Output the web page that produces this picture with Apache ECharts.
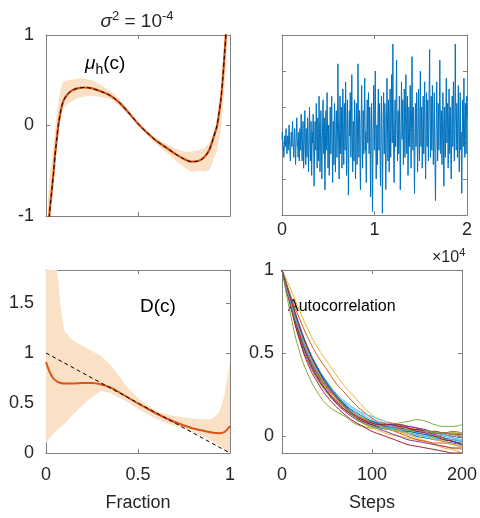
<!DOCTYPE html>
<html><head><meta charset="utf-8">
<script src="https://cdn.jsdelivr.net/npm/echarts@6/dist/echarts.min.js"></script>
<style>html,body{margin:0;padding:0;background:#fff}#c{width:480px;height:518px}</style>
</head><body><div id="c"></div>
<script>
// ---------- Panel 1: mu_h(c) ----------
const muC = [0.010,0.018,0.025,0.034,0.042,0.049,0.058,0.067,0.080,0.094,0.115,0.140,0.170,0.210,0.250,0.300,0.350,0.400,0.450,0.500,0.550,0.600,0.650,0.700,0.750,0.790,0.830,0.860,0.885,0.905,0.920,0.930,0.940,0.950,0.960,0.970,0.978,0.985];
const muTrue = [-1.25,-1.00,-0.85,-0.67,-0.50,-0.34,-0.16,0.00,0.16,0.27,0.34,0.385,0.41,0.42,0.41,0.375,0.33,0.25,0.14,0.02,-0.08,-0.17,-0.24,-0.31,-0.37,-0.40,-0.39,-0.35,-0.28,-0.17,-0.07,0.00,0.13,0.28,0.50,0.78,1.02,1.35];
const muEst = [-1.24,-1.00,-0.84,-0.67,-0.50,-0.33,-0.16,0.00,0.16,0.27,0.34,0.385,0.41,0.42,0.41,0.375,0.33,0.25,0.14,0.02,-0.08,-0.17,-0.24,-0.31,-0.37,-0.40,-0.39,-0.35,-0.28,-0.17,-0.07,0.00,0.13,0.28,0.50,0.78,1.02,1.34];
const muUpper = [-0.84,-0.62,-0.48,-0.33,-0.18,-0.03,0.12,0.26,0.40,0.49,0.50,0.505,0.52,0.52,0.50,0.445,0.38,0.29,0.165,0.04,-0.06,-0.14,-0.20,-0.25,-0.29,-0.29,-0.27,-0.25,-0.20,-0.11,-0.02,0.05,0.18,0.34,0.58,0.88,1.14,1.49];
const muLower = [-1.39,-1.12,-0.94,-0.75,-0.56,-0.38,-0.21,-0.05,0.10,0.19,0.24,0.265,0.30,0.32,0.33,0.315,0.29,0.22,0.12,0.00,-0.105,-0.21,-0.29,-0.38,-0.46,-0.51,-0.50,-0.51,-0.50,-0.41,-0.33,-0.28,-0.17,-0.04,0.16,0.42,0.64,0.94];
const muTicksY = [-1,0,1];

// ---------- Panel 2: trace ----------
const traceSpan = 20000;
const trace = [
0.1,0.3,0.2,0.0,-0.2,-0.1,-0.4,-0.2,0.1,0.2,0.0,-0.1,0.2,0.4,0.1,-0.1,-0.3,0.0,0.2,0.1,
-0.2,0.0,0.3,0.5,0.2,-0.1,-0.3,-0.5,-0.2,0.1,0.3,0.1,-0.1,0.2,0.6,0.3,0.0,-0.2,-0.4,-0.1,
0.2,0.4,0.1,-0.3,-0.6,-0.2,0.1,0.5,0.7,0.3,-0.1,0.0,-0.4,-0.2,0.3,0.1,-0.5,-0.1,0.4,0.2,
-0.2,0.3,0.8,0.4,-0.1,-0.5,-0.3,0.2,0.6,0.1,-0.7,-0.4,0.0,0.5,0.9,0.3,-0.2,-0.6,0.1,0.4,
0.0,-0.4,0.2,0.7,0.3,-0.3,-0.8,-0.2,0.4,1.0,0.5,-0.1,-0.5,0.1,0.6,0.2,-0.9,-0.3,0.3,0.0,
0.5,0.8,0.2,-0.4,-1.2,-0.6,0.1,0.6,0.3,-0.2,0.4,1.1,0.5,-0.3,-0.7,0.0,0.7,0.2,-0.5,0.3,
1.3,0.6,-0.2,-0.8,-0.3,0.4,0.9,0.2,-0.6,-1.0,-0.4,0.3,0.8,1.2,0.5,-0.3,0.1,0.7,-0.5,-1.3,
-0.6,0.2,0.9,0.4,-0.2,0.6,1.4,0.7,-0.1,-0.7,-0.2,0.5,0.1,-0.9,-0.4,0.3,1.0,0.6,-0.3,0.2,
0.8,1.3,0.4,-0.5,-1.1,-0.3,0.6,0.2,-0.6,0.4,1.1,0.7,0.0,-0.8,-0.2,0.5,0.9,0.3,-0.4,0.1,
0.6,2.2,1.0,0.3,-0.5,-1.0,-0.2,0.7,1.3,0.4,-0.3,0.2,1.0,0.5,-0.7,-0.2,0.6,1.5,0.8,0.0,
-0.6,0.3,1.1,0.6,-0.2,0.4,1.7,0.9,0.1,-0.9,-0.4,0.5,1.2,0.3,-0.3,-1.45,-0.6,0.4,0.9,0.2,
0.7,1.4,0.5,-0.4,0.1,1.0,1.9,0.8,-0.2,-0.8,0.0,0.6,0.3,-0.5,0.4,1.2,0.6,-0.1,-1.0,-0.3,
0.5,1.1,0.4,-0.6,-0.1,0.8,2.2,1.2,0.3,-0.4,0.2,0.9,0.5,-0.8,-1.3,-0.5,0.4,1.0,1.6,0.7,
-0.1,-0.7,0.2,0.9,0.4,-0.3,0.5,1.3,1.8,0.6,-0.2,0.3,-0.6,-1.1,-0.3,0.7,1.2,0.4,0.0,0.8,
1.4,0.6,-0.3,0.2,1.0,0.5,-0.8,-1.5,-0.4,0.6,1.1,0.3,-0.6,-1.9,-0.9,0.2,0.9,1.6,0.7,-0.2,
0.4,1.2,2.0,0.8,-0.3,-1.0,-0.4,0.5,0.1,-0.6,0.3,1.0,1.5,0.6,-0.2,0.4,1.1,0.2,-0.7,-1.2,
-0.5,0.6,1.3,0.7,-0.1,-1.95,-1.0,0.1,0.8,1.4,0.5,-0.3,0.3,1.1,0.6,-0.4,-1.3,-0.6,0.5,1.0,
1.8,0.9,0.2,-0.5,0.3,1.2,0.6,-0.8,-0.2,0.7,1.5,0.4,-0.4,0.2,1.0,1.9,0.8,0.0,1.3,2.75,
1.1,0.2,-0.6,-1.1,-0.3,0.5,1.2,0.7,-0.1,0.4,1.6,2.3,1.0,0.2,-0.5,0.3,0.9,0.4,-0.3,0.6,
1.3,0.5,-0.2,-1.3,-0.5,0.4,1.0,1.7,0.8,0.1,0.6,1.2,0.3,-0.6,0.0,0.9,1.5,0.6,-0.4,0.2,
0.8,1.9,1.1,0.3,-0.3,0.5,1.3,0.6,-0.9,-0.2,0.4,1.0,0.5,-0.1,0.7,1.6,0.9,0.2,-0.7,0.3,
1.2,2.4,1.1,0.4,-0.2,0.6,1.0,0.3,-0.6,-1.4,-0.5,0.4,1.1,0.6,-0.1,0.5,1.4,0.8,0.0,-0.8,
-0.2,0.7,1.5,0.9,0.2,-0.5,0.3,1.2,2.0,0.8,-0.1,0.4,1.0,0.3,-0.7,-0.2,0.6,1.3,0.5,-0.3,
0.4,1.1,1.7,0.6,-0.4,-1.0,-0.2,0.8,1.4,0.5,-0.1,0.6,1.2,0.3,-0.5,0.2,1.0,1.8,2.6,1.0,
0.3,-0.4,0.5,1.3,0.7,-0.2,0.4,1.6,0.9,0.1,-0.6,-0.1,0.8,1.4,0.5,-0.3,-1.0,-1.6,-0.6,0.3,
1.0,1.7,0.8,0.0,-0.5,0.3,1.1,0.6,-0.2,0.5,1.3,2.3,1.2,0.4,-0.3,0.2,0.9,0.5,-0.6,-0.1,
0.6,1.4,0.7,-0.2,-1.2,-0.4,0.5,1.0,0.3,-0.4,0.4,1.2,1.8,0.8,0.0,0.6,1.1,0.3,-0.7,0.2,
0.9,1.5,0.6,-0.3,0.2,1.0,0.4,-0.6,-1.0,-0.2,0.7,1.3,0.5,-0.1,0.8,1.7,0.9,0.1,-0.5,0.4,
1.2,2.75,1.3,0.5,-0.2,0.4,1.1,0.6,-0.4,0.2,1.0,1.6,0.7,-0.3,-0.8,0.0,0.9,1.4,0.5,-0.2,
0.3,-0.6,-1.4,-0.5,0.4,1.2,0.6,-0.1,0.7,1.8,0.9,0.2,-0.4,0.3,1.1,0.5,-0.3,0.6,1.3,0.7
];
const traceTicksX = [0,10000,20000];

// ---------- Panel 3: D(c) ----------
const dC = [0,0.02,0.04,0.06,0.08,0.10,0.15,0.20,0.25,0.30,0.35,0.40,0.45,0.50,0.55,0.60,0.65,0.70,0.75,0.80,0.85,0.90,0.94,0.97,1.0];
const dEst = [0.91,0.81,0.745,0.715,0.70,0.695,0.695,0.70,0.70,0.685,0.655,0.605,0.55,0.495,0.445,0.395,0.35,0.31,0.275,0.245,0.225,0.205,0.198,0.21,0.27];
const dUpper = [2.6,2.3,2.05,1.85,1.45,1.22,1.12,1.07,1.02,0.97,0.88,0.76,0.64,0.55,0.48,0.42,0.39,0.37,0.355,0.345,0.335,0.34,0.40,0.58,0.92];
const dLower = [0.10,0.15,0.19,0.23,0.26,0.29,0.39,0.48,0.56,0.62,0.60,0.55,0.50,0.44,0.39,0.34,0.30,0.27,0.245,0.21,0.17,0.12,0.08,0.04,0.00];
const dTrueC = [0,1];
const dTrue = [1,0];
const dTicksY = [0,0.5,1,1.5];

// ---------- Panel 4: autocorrelation ----------
const acSteps = [0,10,20,30,40,50,60,70,80,90,100,110,120,130,140,150,160,170,180,190,200];
const acCurves = [
[1,0.80,0.62,0.48,0.38,0.30,0.24,0.19,0.15,0.12,0.09,0.07,0.05,0.04,0.03,0.02,0.01,0.00,-0.01,-0.02,-0.03],
[1,0.84,0.70,0.58,0.48,0.40,0.32,0.26,0.20,0.15,0.11,0.08,0.06,0.06,0.05,0.04,0.03,0.03,0.02,0.02,0.01],
[1,0.88,0.75,0.63,0.53,0.45,0.37,0.30,0.24,0.18,0.13,0.09,0.06,0.03,0.01,-0.01,-0.03,-0.05,-0.07,-0.08,-0.10],
[1,0.78,0.58,0.44,0.34,0.27,0.21,0.16,0.12,0.09,0.07,0.06,0.06,0.07,0.06,0.05,0.04,0.02,0.01,0.00,-0.01],
[1,0.72,0.50,0.36,0.26,0.19,0.15,0.12,0.08,0.06,0.05,0.06,0.07,0.08,0.09,0.10,0.09,0.07,0.06,0.06,0.07],
[1,0.82,0.65,0.51,0.41,0.33,0.26,0.21,0.17,0.14,0.12,0.10,0.08,0.06,0.04,0.03,0.02,0.01,0.00,-0.01,-0.02],
[1,0.77,0.57,0.42,0.32,0.24,0.18,0.13,0.09,0.06,0.03,0.01,-0.01,-0.03,-0.05,-0.06,-0.07,-0.08,-0.09,-0.10,-0.10],
[1,0.81,0.63,0.50,0.40,0.32,0.25,0.19,0.14,0.10,0.07,0.05,0.04,0.03,0.03,0.02,0.01,-0.01,-0.02,-0.03,-0.04],
[1,0.79,0.60,0.46,0.36,0.28,0.22,0.17,0.13,0.10,0.09,0.08,0.08,0.07,0.05,0.04,0.03,0.03,0.02,0.03,0.02],
[1,0.80,0.61,0.47,0.36,0.28,0.21,0.16,0.12,0.08,0.05,0.03,0.01,0.00,-0.01,-0.02,-0.03,-0.05,-0.06,-0.07,-0.08],
[1,0.80,0.62,0.48,0.37,0.29,0.23,0.18,0.14,0.11,0.09,0.08,0.07,0.07,0.06,0.05,0.03,0.01,-0.01,-0.03,-0.05],
[1,0.79,0.60,0.45,0.34,0.26,0.20,0.16,0.13,0.11,0.09,0.07,0.05,0.03,0.02,0.01,0.00,0.00,0.01,0.02,0.02],
[1,0.81,0.64,0.50,0.39,0.31,0.25,0.20,0.16,0.13,0.10,0.08,0.06,0.05,0.04,0.03,0.03,0.02,0.01,-0.01,-0.03],
[1,0.80,0.61,0.46,0.35,0.27,0.21,0.16,0.12,0.09,0.07,0.06,0.05,0.05,0.04,0.04,0.03,0.02,0.02,0.01,0.01],
[1,0.83,0.66,0.52,0.41,0.32,0.25,0.19,0.14,0.11,0.09,0.07,0.05,0.04,0.02,0.00,-0.01,-0.02,-0.03,-0.04,-0.05],
[1,0.81,0.63,0.49,0.38,0.30,0.23,0.18,0.14,0.11,0.08,0.06,0.04,0.02,0.00,-0.02,-0.03,-0.04,-0.04,-0.05,-0.06],
[1,0.82,0.64,0.50,0.39,0.30,0.23,0.18,0.14,0.11,0.08,0.06,0.04,0.03,0.02,0.01,0.00,-0.02,-0.03,-0.05,-0.06],
[1,0.79,0.60,0.46,0.35,0.27,0.20,0.15,0.11,0.08,0.06,0.04,0.02,0.00,-0.02,-0.03,-0.04,-0.05,-0.06,-0.07,-0.07],
[1,0.80,0.62,0.48,0.38,0.30,0.23,0.17,0.12,0.08,0.06,0.05,0.05,0.04,0.04,0.03,0.03,0.02,0.02,0.01,0.00],
[1,0.80,0.63,0.49,0.39,0.31,0.24,0.18,0.14,0.10,0.08,0.06,0.05,0.04,0.02,0.01,0.00,-0.01,-0.02,-0.02,-0.03],
[1,0.82,0.65,0.51,0.40,0.31,0.24,0.18,0.13,0.10,0.08,0.07,0.07,0.06,0.05,0.03,0.02,0.00,-0.02,-0.03,-0.05]
];
const acColors = ['#0072BD','#D95319','#EDB120','#7E2F8E','#77AC30','#4DBEEE','#A2142F'];
const acTicksY = [0,0.5,1];

// ---------- styling ----------
const FONT = '"Liberation Sans", Arial, sans-serif';
const FRAME = '#808080';
const TXT = '#262626';
const BAND = '#FAE1C6';
const ORANGE = '#D95319';

const grids = [
  {left:46, top:35, width:184, height:181},
  {left:282, top:35, width:185, height:180},
  {left:46, top:270, width:184, height:183},
  {left:282, top:270, width:185, height:183}
];

function baseAxis(gi){
  return {type:'value', gridIndex:gi, splitLine:{show:false},
    axisLine:{show:true,onZero:false,lineStyle:{color:FRAME,width:1}},
    axisTick:{show:true,inside:true,length:4,lineStyle:{color:FRAME}}};
}
function lab(show, margin, extra){
  return Object.assign({show:show, margin:margin, color:TXT, fontSize:18, fontFamily:FONT}, extra||{});
}
const xAxes = [], yAxes = [];
function makePair(gi, cfg, labelCfg, posA, posB, nameCfg){
  const ticks = cfg.ticks;
  const c = Object.assign({}, cfg); delete c.ticks;
  const a = Object.assign(baseAxis(gi), c, {position:posA, axisLabel:Object.assign({}, labelCfg)}, nameCfg||{});
  const b = Object.assign(baseAxis(gi), c, {position:posB, axisLabel:{show:false}});
  if (ticks) {
    a.axisTick.customValues = ticks; a.axisLabel.customValues = ticks;
    b.axisTick.customValues = ticks;
  }
  return [a, b];
}
function addX(gi, cfg, labelCfg, nameCfg){ xAxes.push(...makePair(gi, cfg, labelCfg, 'bottom', 'top', nameCfg)); }
function addY(gi, cfg, labelCfg){ yAxes.push(...makePair(gi, cfg, labelCfg, 'left', 'right')); }
const nameStyle = {color:TXT, fontSize:18, fontFamily:FONT};
// panel 1
addX(0, {min:0,max:1,interval:0.5}, lab(false,8));
addY(0, {min:-1,max:1,interval:1,ticks:muTicksY}, lab(true,12));
// panel 2
addX(1, {min:0,max:traceSpan,interval:10000,ticks:traceTicksX}, lab(true,6,{formatter:v=>String(v/10000)}));
addY(1, {min:-2,max:3,interval:1}, lab(false,8));
// panel 3
addX(2, {min:0,max:1,interval:0.5}, lab(true,13), {name:'Fraction',nameLocation:'middle',nameGap:41,nameTextStyle:nameStyle});
addY(2, {min:0,max:1.83,ticks:dTicksY}, lab(true,12));
// panel 4
addX(3, {min:0,max:200,interval:100}, lab(true,13), {name:'Steps',nameLocation:'middle',nameGap:41,nameTextStyle:nameStyle});
addY(3, {min:-0.1,max:1,ticks:acTicksY}, lab(true,8));

function pairs(xs, ys){ return ys.map((v,i)=>[xs[i], v]); }
function line(gi, data, style, extra){
  return Object.assign({type:'line', xAxisIndex:2*gi, yAxisIndex:2*gi, data:data, symbol:'none', showSymbol:false,
    lineStyle:style, itemStyle:{color:style.color}, silent:true, z:3, clip:true}, extra||{});
}
function band(gi, xs, lo, hi){
  const mid = Math.floor(xs.length/2);
  return {type:'custom', xAxisIndex:2*gi, yAxisIndex:2*gi, silent:true, z:1, clip:true,
    data:[[xs[mid], (lo[mid]+hi[mid])/2]],
    renderItem:function(params, api){
      const pts = [];
      for (let i=0;i<xs.length;i++) pts.push(api.coord([xs[i], hi[i]]));
      for (let i=xs.length-1;i>=0;i--) pts.push(api.coord([xs[i], lo[i]]));
      const cs = params.coordSys;
      return {type:'polygon', shape:{points:pts}, style:{fill:BAND, stroke:null},
        clipPath:{type:'rect', shape:{x:cs.x, y:cs.y, width:cs.width, height:cs.height}}};
    }};
}

const series = [];
// panel 1
series.push(band(0, muC, muLower, muUpper));
series.push(line(0, pairs(muC, muEst), {width:2.2, color:ORANGE}, {smooth:0.3}));
series.push(line(0, pairs(muC, muTrue), {width:1, color:'#000', type:[4,3]}, {smooth:0.3, z:4}));
// panel 2
const traceX = trace.map((v,i)=> i*traceSpan/(trace.length-1));
series.push(line(1, pairs(traceX, trace), {width:1, color:'#0072BD'}));
// panel 3
series.push(band(2, dC, dLower, dUpper));
series.push(line(2, pairs(dC, dEst), {width:2, color:ORANGE}, {smooth:0.3}));
series.push(line(2, pairs(dTrueC, dTrue), {width:1, color:'#000', type:[4,3]}, {z:4}));
// panel 4
acCurves.forEach((cv, k)=>{
  series.push(line(3, pairs(acSteps, cv), {width:1, color:acColors[k % acColors.length]}, {smooth:true}));
});

const base = {fontFamily:FONT, fill:'#000'};
const graphic = [
  {type:'text', x:137, y:22, style:{text:'{i|σ}{s|2}{n| = 10}{s|-4}', align:'center', verticalAlign:'middle', textAlign:'center', textVerticalAlign:'middle',
    rich:{i:{fontFamily:FONT,fontSize:19,fontStyle:'italic',lineHeight:24,fill:TXT,color:TXT},
          n:{fontFamily:FONT,fontSize:19,lineHeight:24,fill:TXT,color:TXT},
          s:{fontFamily:FONT,fontSize:13,lineHeight:14,verticalAlign:'top',fill:TXT,color:TXT}}}},
  {type:'text', x:85, y:64, style:{text:'{i|μ}{b|h}{n|(c)}', align:'left', verticalAlign:'middle', textAlign:'left', textVerticalAlign:'middle',
    rich:{i:{fontFamily:FONT,fontSize:19,fontStyle:'italic',lineHeight:26,fill:'#000',color:'#000'},
          n:{fontFamily:FONT,fontSize:19,lineHeight:26,fill:'#000',color:'#000'},
          b:{fontFamily:FONT,fontSize:14,lineHeight:14,verticalAlign:'bottom',fill:'#000',color:'#000'}}}},
  {type:'text', x:140, y:307, style:Object.assign({}, base, {text:'D(c)', fontSize:19, font:'19px '+FONT, align:'left', verticalAlign:'middle', textAlign:'left', textVerticalAlign:'middle'})},
  {type:'text', x:288, y:307, style:Object.assign({}, base, {text:'Autocorrelation', fontSize:16, font:'16px '+FONT, align:'left', verticalAlign:'middle', textAlign:'left', textVerticalAlign:'middle'})},
  {type:'text', x:432, y:258, style:{text:'{n|×10}{s|4}', align:'left', verticalAlign:'middle', textAlign:'left', textVerticalAlign:'middle',
    rich:{n:{fontFamily:FONT,fontSize:16,lineHeight:22,fill:TXT,color:TXT},
          s:{fontFamily:FONT,fontSize:11,lineHeight:12,verticalAlign:'top',fill:TXT,color:TXT}}}}
];

const chart = echarts.init(document.getElementById('c'), null, {renderer:'canvas'});
chart.setOption({animation:false, backgroundColor:'#fff', grid:grids, xAxis:xAxes, yAxis:yAxes, series:series, graphic:graphic});
</script></body></html>
